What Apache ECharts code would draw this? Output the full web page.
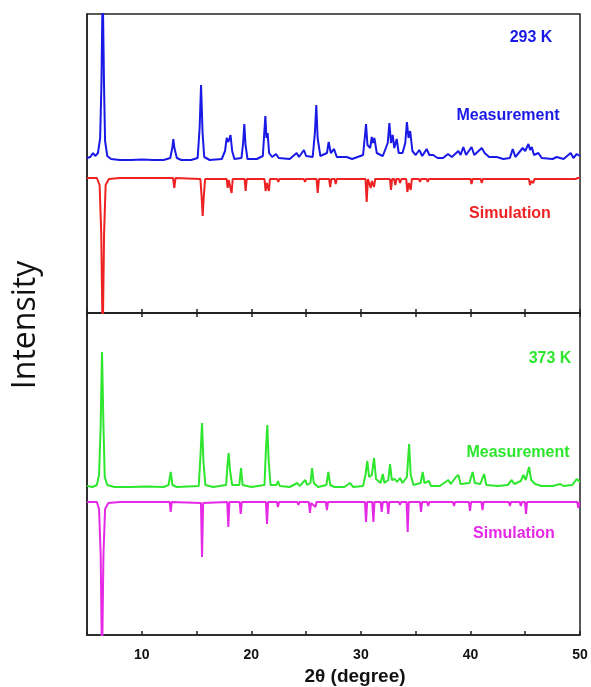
<!DOCTYPE html>
<html>
<head>
<meta charset="utf-8">
<script src="https://cdn.jsdelivr.net/npm/echarts@6/dist/echarts.min.js"></script>
<style>
    html, body { margin: 0; padding: 0; background: #fff; }
    #main { width: 591px; height: 687px; }
</style>
</head>
<body>
<div id="main"></div>
<script type="text/javascript">
    // x ticks (2theta, degree)
    let xTicks = [10, 20, 30, 40, 50];

    // 293 K, measured pattern (intensity, a.u., offset)
    let meas293 = [
        [5.0,155],[5.3,156],[5.55,160],[5.75,157],[6.0,160],[6.2,175],[6.32,230],[6.43,330],[6.55,230],[6.65,172],[6.85,157],[7.2,154],
        [8,153],[9,153],[10,153.5],[11,153],[12,153],[12.6,155],[12.8,166],[12.88,174],[12.98,165],[13.2,155],[13.6,153],[14.5,153],
        [15.1,155],[15.28,185],[15.41,228],[15.55,180],[15.7,156],[16.2,153],[17.3,154],[17.6,162],[17.75,175],[17.9,171],[18.1,178],
        [18.25,162],[18.45,154],[19.1,155],[19.25,170],[19.36,189],[19.47,168],[19.65,154],[20.5,154],[21.05,157],[21.18,180],[21.28,197],
        [21.38,175],[21.49,180],[21.62,160],[21.9,156],[22.25,159],[22.5,155],[23.5,154],[24.14,160],[24.35,156],[24.8,163],[25.0,157],
        [25.6,156],[25.8,180],[25.93,208],[26.05,175],[26.3,157],[26.9,160],[27.06,171],[27.25,160],[27.55,164],[27.8,156],[28.7,156],
        [29.2,154],[30.2,158],[30.35,175],[30.47,189],[30.6,168],[30.85,165],[30.99,176],[31.1,170],[31.23,175],[31.45,160],[31.8,158],
        [32.0,157],[32.45,170],[32.6,190],[32.75,170],[32.9,178],[33.05,165],[33.27,174],[33.45,160],[33.8,160],[34.05,170],[34.2,191],
        [34.35,175],[34.5,182],[34.7,162],[35.0,158],[35.33,163],[35.6,157],[36.0,164],[36.25,158],[36.6,158],[37.0,155],[37.5,155],
        [37.95,159],[38.3,156],[38.9,162],[39.1,158],[39.35,166],[39.6,158],[40.1,166],[40.35,158],[41.03,165],[41.3,160],[41.7,156],
        [42.4,156],[43.0,154],[43.6,155],[43.86,164],[44.1,156],[44.77,165],[45.0,162],[45.29,169],[45.45,163],[45.6,166],[45.8,158],
        [46.2,160],[46.5,155],[47.5,154],[47.87,156],[48.5,154],[49.15,160],[49.4,155],[49.7,159],[50,157]
    ];

    // 293 K, simulated pattern (drawn inverted)
    let sim293 = [
        [5,135],[5.9,135],[6.15,128],[6.3,80],[6.43,-30],[6.56,80],[6.7,128],[7.0,134],[8,135],[12.85,135],[12.97,125],[13.08,135],
        [15.35,134],[15.47,115],[15.56,97],[15.65,115],[15.78,134],[17.75,134],[17.84,125],[17.93,133],[18.05,132],[18.2,120],[18.3,134],
        [19.38,134],[19.48,122],[19.58,134],[21.2,134],[21.3,122],[21.42,130],[21.6,122],[21.7,134],[22.36,134],[22.46,131],[22.56,134],
        [24.16,134],[24.26,132],[24.36,134],[24.8,134],[24.9,131],[25.0,134],[25.95,134],[26.06,120],[26.17,134],[27.1,134],[27.2,126],
        [27.3,134],[27.6,134],[27.7,129],[27.8,134],[30.42,134],[30.53,111],[30.64,134],[30.8,134],[30.9,125],[31.0,132],[31.2,126],
        [31.3,134],[32.65,134],[32.75,123],[32.85,134],[33.04,134],[33.14,128],[33.25,134],[33.47,134],[33.57,130],[33.7,134],[34.14,134],
        [34.24,121],[34.38,130],[34.55,123],[34.65,134],[35.3,134],[35.4,131],[35.5,134],[36.0,134],[36.1,131],[36.2,134],[40.0,134],
        [40.1,129],[40.2,134],[40.93,134],[41.03,130],[41.13,134],[45.34,134],[45.44,128],[45.54,132],[45.74,130],[45.84,134],[49.6,134],
        [49.7,132],[49.8,135],[50,135]
    ];

    // 373 K, measured pattern
    let meas373 = [
        [5,149],[5.5,148],[5.9,150],[6.1,160],[6.25,210],[6.37,283],[6.5,210],[6.62,158],[6.85,150],[7.5,148],[9,148],[10.5,148.5],
        [12,148],[12.45,150],[12.64,163],[12.8,150],[13.2,148],[15.2,149],[15.36,180],[15.5,212],[15.62,175],[15.8,150],[16.5,148],
        [17.7,150],[17.82,170],[17.93,182],[18.05,165],[18.25,150],[18.9,150],[19.06,167],[19.2,150],[20,148],[21.2,150],[21.33,185],
        [21.46,210],[21.58,175],[21.75,150],[22.3,150],[22.43,154],[22.6,149],[23.5,148],[24.2,152],[24.4,149],[24.93,155],[25.1,150],
        [25.4,152],[25.54,167],[25.7,152],[25.88,152],[26.1,148],[26.85,150],[27.03,163],[27.2,150],[27.6,148],[28.5,148],[29.0,152],
        [29.3,148],[30.2,149],[30.42,160],[30.59,174],[30.75,158],[31.0,160],[31.2,177],[31.38,156],[31.8,152],[32.0,161],[32.15,152],
        [32.5,155],[32.66,171],[32.82,155],[33.1,156],[33.3,153],[33.57,157],[33.8,152],[34.2,158],[34.4,191],[34.55,160],[34.8,150],
        [35.45,152],[35.64,163],[35.8,152],[36.2,154],[36.4,149],[37.2,149],[37.98,155],[38.2,151],[38.68,158],[38.9,160],[39.1,151],
        [39.9,152],[40.2,163],[40.4,152],[40.9,151],[41.24,161],[41.45,150],[42.5,149],[43.4,150],[43.77,155],[44.0,151],[44.6,154],
        [44.83,160],[45.05,155],[45.35,168],[45.55,155],[45.9,151],[46.5,149],[47.5,149],[48.2,151],[48.5,149],[49.3,150],[49.7,156],[50,153]
    ];

    // 373 K, simulated pattern (drawn inverted)
    let sim373 = [
        [5,133],[5.9,133],[6.1,126],[6.25,80],[6.37,-30],[6.5,80],[6.65,126],[6.95,132],[8,133],[12.55,133],[12.64,123],[12.73,133],
        [15.4,132],[15.5,78],[15.6,132],[17.8,133],[17.9,108],[18.0,133],[18.93,133],[19.03,121],[19.13,133],[21.33,133],[21.43,111],
        [21.53,133],[22.33,133],[22.43,128],[22.53,133],[24.2,133],[24.3,130],[24.4,133],[25.25,133],[25.35,122],[25.45,132],[25.85,128],
        [25.95,133],[26.8,133],[26.9,125],[27.0,133],[30.37,133],[30.47,113],[30.57,133],[31.04,133],[31.14,113],[31.24,133],[31.8,133],
        [31.9,123],[32.0,133],[32.4,133],[32.5,121],[32.6,133],[33.47,133],[33.57,130],[33.67,133],[34.17,133],[34.27,103],[34.37,133],
        [35.39,133],[35.49,123],[35.59,133],[36.05,133],[36.15,129],[36.25,133],[38.4,133],[38.5,129],[38.6,133],[39.86,133],[39.96,124],
        [40.06,133],[41.0,133],[41.1,125],[41.2,133],[43.5,133],[43.6,129],[43.7,133],[44.5,133],[44.6,129],[44.7,133],[44.97,133],
        [45.07,121],[45.17,133],[49.75,133],[49.85,127],[49.95,133],[50,133]
    ];

    const BLUE = '#1a1ae6';
    const RED = '#ee2222';
    const GREEN = '#2ee62e';
    const MAGENTA = '#e629e6';
    const AXIS = '#222';
    const BOLD = 'Liberation Sans, Arial, sans-serif';

    let chart = echarts.init(document.getElementById('main'), null, { renderer: 'canvas' });

    function xAx(gridIndex, position, showLabel) {
        return {
            type: 'value', gridIndex: gridIndex, position: position,
            min: 5, max: 50, interval: 5,
            axisLine: { show: true, onZero: false, lineStyle: { color: AXIS, width: 1.5 } },
            axisTick: { show: true, inside: true, length: 4, lineStyle: { color: AXIS, width: 1.5 } },
            axisLabel: {
                show: showLabel, margin: 13, color: '#111', fontFamily: BOLD, fontWeight: 'bold', fontSize: 14,
                showMinLabel: true, showMaxLabel: true,
                formatter: function (v) { return xTicks.indexOf(v) >= 0 ? String(v) : ''; }
            },
            splitLine: { show: false }
        };
    }

    function yAx(gridIndex, max) {
        return {
            type: 'value', gridIndex: gridIndex, min: 0, max: max,
            axisLine: { show: true, lineStyle: { color: AXIS, width: 1.5 } },
            axisTick: { show: false }, axisLabel: { show: false }, splitLine: { show: false }
        };
    }

    function line(data, color, xi, yi) {
        return {
            type: 'line', data: data, xAxisIndex: xi, yAxisIndex: yi,
            showSymbol: false, clip: true, animation: false,
            lineStyle: { color: color, width: 2 }
        };
    }

    function label(text, x, y, color) {
        return {
            type: 'text', x: x, y: y,
            style: { text: text, fill: color, font: 'bold 16px ' + BOLD, align: 'center', verticalAlign: 'middle' }
        };
    }

    let option = {
        backgroundColor: '#fff',
        animation: false,
        grid: [
            { left: 87, right: 11, top: 14, height: 299, show: true, borderColor: AXIS, borderWidth: 1.5 },
            { left: 87, right: 11, top: 313, height: 322, show: true, borderColor: AXIS, borderWidth: 1.5 }
        ],
        xAxis: [xAx(0, 'bottom', false), xAx(1, 'bottom', true), xAx(1, 'top', false)],
        yAxis: [yAx(0, 299), yAx(1, 322)],
        series: [
            line(meas293, BLUE, 0, 0),
            line(sim293, RED, 0, 0),
            line(meas373, GREEN, 1, 1),
            line(sim373, MAGENTA, 2, 1)
        ],
        graphic: [
            label('293 K', 531, 38, BLUE),
            label('Measurement', 508, 116, BLUE),
            label('Simulation', 510, 214, RED),
            label('373 K', 550, 359, GREEN),
            label('Measurement', 518, 453, GREEN),
            label('Simulation', 514, 534, MAGENTA),
            {
                type: 'text', x: 355, y: 677,
                style: { text: '2\u03b8 (degree)', fill: '#111', font: 'bold 19px ' + BOLD, align: 'center', verticalAlign: 'middle' }
            },
            {
                type: 'text', x: 26, y: 325, rotation: Math.PI / 2,
                style: { text: 'Intensity', fill: '#111', font: '32px "Open Sans", sans-serif', align: 'center', verticalAlign: 'middle' }
            }
        ]
    };

    chart.setOption(option);
    window.addEventListener('resize', chart.resize);
</script>
</body>
</html>
